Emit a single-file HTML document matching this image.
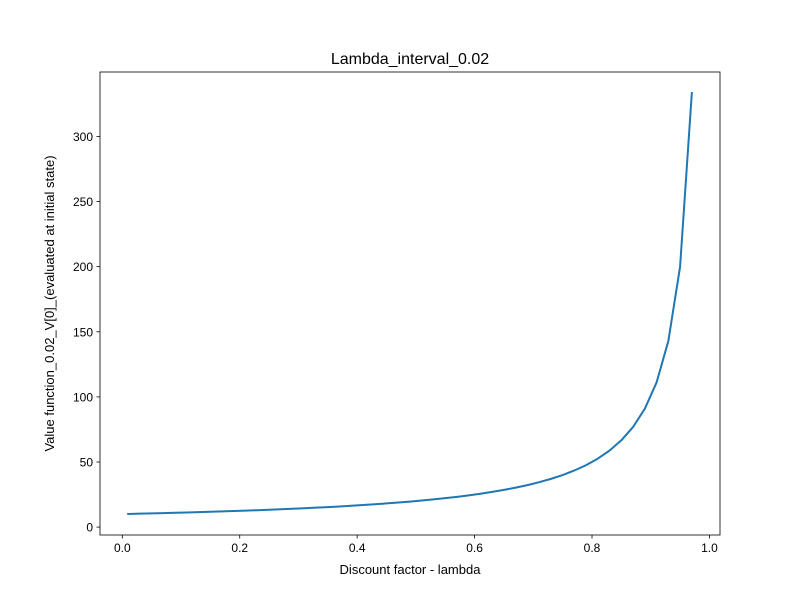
<!DOCTYPE html>
<html><head><meta charset="utf-8"><style>
body{margin:0;background:#fff;}
svg{display:block;font-family:"Liberation Sans","DejaVu Sans",sans-serif;}
</style></head><body>
<svg id="chart" width="800" height="600" viewBox="0 0 800 600">
<rect width="800" height="600" fill="#fff"/>
<text x="410" y="64" font-size="16" text-anchor="middle">Lambda_interval_0.02</text>
<g id="axes"></g>
<text x="410" y="574" font-size="13" text-anchor="middle">Discount factor - lambda</text>
<text transform="translate(54,303.5) rotate(-90)" font-size="13" text-anchor="middle">Value function_0.02_V[0]_(evaluated at initial state)</text>
</svg>
<script>
const lambdas=[0.01,0.03,0.05,0.07,0.09,0.11,0.13,0.15,0.17,0.19,0.21,0.23,0.25,0.27,0.29,0.31,0.33,0.35,0.37,0.39,0.41,0.43,0.45,0.47,0.49,0.51,0.53,0.55,0.57,0.59,0.61,0.63,0.65,0.67,0.69,0.71,0.73,0.75,0.77,0.79,0.81,0.83,0.85,0.87,0.89,0.91,0.93,0.95,0.97];
const values=[10.10,10.31,10.53,10.75,10.99,11.24,11.49,11.76,12.05,12.35,12.66,12.99,13.33,13.70,14.08,14.49,14.93,15.38,15.87,16.39,16.95,17.54,18.18,18.87,19.61,20.41,21.28,22.22,23.26,24.39,25.64,27.03,28.57,30.30,32.26,34.48,37.04,40.00,43.48,47.62,52.63,58.82,66.67,76.92,90.91,111.11,142.86,200.00,333.33];
const xTicks=[0,0.2,0.4,0.6,0.8,1.0];
const xTickLabels=["0.0","0.2","0.4","0.6","0.8","1.0"];
const yTicks=[0,50,100,150,200,250,300];

const L=100,R=720,T=72,B=535;
const xmin0=Math.min(...lambdas),xmax0=Math.max(...lambdas);
const ymin0=Math.min(...values),ymax0=Math.max(...values);
const xp=(xmax0-xmin0)*0.05,yp=(ymax0-ymin0)*0.05;
const xmin=xmin0-xp,xmax=xmax0+xp,ymin=ymin0-yp,ymax=ymax0+yp;
const sx=v=>L+(v-xmin)/(xmax-xmin)*(R-L);
const sy=v=>B-(v-ymin)/(ymax-ymin)*(B-T);
const NS="http://www.w3.org/2000/svg";
const g=document.getElementById('axes');
function mk(tag,attrs,parent){const e=document.createElementNS(NS,tag);for(const k in attrs)e.setAttribute(k,attrs[k]);(parent||g).appendChild(e);return e;}

xTicks.forEach((t,i)=>{
  const x=sx(t);
  const tk=mk('line',{x1:x,x2:x,y1:B,y2:B+3.5,stroke:'#000','stroke-width':0.8});
  
  
  const lb=mk('text',{x:x,y:B+17,'font-size':12,'text-anchor':'middle'});
  lb.textContent=xTickLabels[i];
  
  
});
yTicks.forEach(t=>{
  const y=sy(t);
  const tk=mk('line',{x1:L-3.5,x2:L,y1:y,y2:y,stroke:'#000','stroke-width':0.8});
  
  
  const lb=mk('text',{x:L-7,y:y+4.5,'font-size':12,'text-anchor':'end'});
  lb.textContent=String(t);
  
  
});
const pts=lambdas.map((l,i)=>sx(l).toFixed(2)+','+sy(values[i]).toFixed(2)).join(' ');
const line=mk('polyline',{points:pts,fill:'none',stroke:'#1f77b4','stroke-width':2,'stroke-linejoin':'round','stroke-linecap':'square'});


const frame=mk('rect',{x:L,y:T,width:R-L,height:B-T,fill:'none',stroke:'#000','stroke-width':0.8});


</script>
</body></html>
